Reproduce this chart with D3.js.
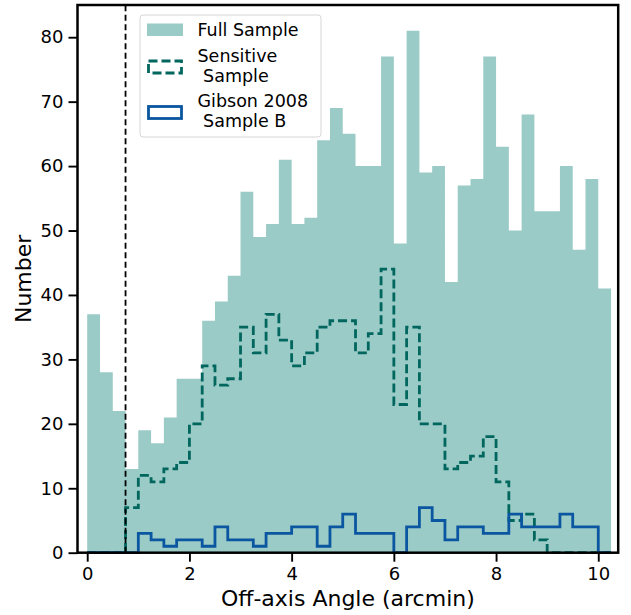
<!DOCTYPE html>
<html>
<head>
<meta charset="utf-8">
<script src="https://cdn.jsdelivr.net/npm/d3@7"></script>
<style>
  body { margin: 0; background: #fff; }
  text { font-family: "DejaVu Sans", sans-serif; fill: #000; }
</style>
</head>
<body>
<div id="chart"></div>
<script>
// bin edges: 0 .. 10.25 arcmin, width 0.25
var BIN_WIDTH = 0.25;
var fullSample = [37, 28, 22, 13, 19, 17, 21, 27, 27, 36, 39, 43, 56, 49, 51, 61, 51, 52, 64, 69, 65,
	60, 60, 77, 48, 81, 59, 60, 42, 57, 58, 77, 63, 50, 68, 53, 53, 60, 47, 58, 41];
var sensitiveSample = [0, 0, 0, 7, 12, 11, 13, 14, 20, 29, 26, 27, 35, 31, 37, 33, 29, 31, 35, 36, 36,
	31, 34, 44, 23, 35, 20, 20, 13, 14, 15, 18, 11, 5, 6, 2, 0, 0, 0, 0, 0];
var gibsonSample = [0, 0, 0, 0, 3, 2, 1, 2, 2, 1, 4, 2, 2, 1, 3, 3, 4, 4, 1, 4, 6,
	3, 3, 3, 0, 4, 7, 5, 2, 4, 4, 3, 3, 6, 4, 4, 4, 6, 4, 4, 0];
var cutoff = 0.75;
var xTicks = [0, 2, 4, 6, 8, 10];
var yTicks = [0, 10, 20, 30, 40, 50, 60, 70, 80];
var legendLabels = [["Full Sample"], ["Sensitive", " Sample"], ["Gibson 2008", " Sample B"]];

var W = 631, H = 615;
// #35978f at alpha 0.5 on white
var FULL_FILL = "#9acbc7", SENS_COLOR = "#01665e", GIB_COLOR = "#0b56a0";

var svg = d3.select("#chart").append("svg").attr("width", W).attr("height", H);

var x = d3.scaleLinear().domain([-0.19, 10.39]).range([77.5, 618.2]);
var y = d3.scaleLinear().domain([0, 85]).range([552.7, 5]);

var edges = d3.range(fullSample.length + 1).map(function(i){ return i * BIN_WIDTH; });

//STEP OUTLINE, LIKE histtype='step'
function stepPoints(values){
	var pts = [[edges[0], 0]];
	values.forEach(function(v, i){
		pts.push([edges[i], v]);
		pts.push([edges[i + 1], v]);
	});
	pts.push([edges[values.length], 0]);
	return pts;
}
var line = d3.line().x(function(p){ return x(p[0]); }).y(function(p){ return y(p[1]); });

//FULL SAMPLE BARS (ONE POLYGON, SO NO SEAMS BETWEEN BINS)
svg.append("path")
	.attr("d", line(stepPoints(fullSample)) + "Z")
	.attr("fill", FULL_FILL);

svg.append("path")
	.attr("d", line(stepPoints(sensitiveSample)))
	.attr("fill", "none").attr("stroke", SENS_COLOR)
	.attr("stroke-width", 2.8).attr("stroke-dasharray", "9,4");

svg.append("path")
	.attr("d", line(stepPoints(gibsonSample)))
	.attr("fill", "none").attr("stroke", GIB_COLOR)
	.attr("stroke-width", 2.8);

//CUTOFF LINE
svg.append("line")
	.attr("x1", x(cutoff)).attr("x2", x(cutoff))
	.attr("y1", y(0)).attr("y2", y(85))
	.attr("stroke", "#000").attr("stroke-width", 1.8).attr("stroke-dasharray", "6,3.5");

//AXES
var xAxis = svg.append("g").attr("transform", "translate(0," + y(0) + ")");
xAxis.call(d3.axisBottom(x).tickValues(d3.range(0, 10.01, 0.5)).tickSize(5.5).tickFormat(""));
xAxis.call(d3.axisBottom(x).tickValues(xTicks).tickSize(9).tickPadding(6).tickFormat(d3.format("d")));

var yAxis = svg.append("g").attr("transform", "translate(" + x.range()[0] + ",0)");
yAxis.call(d3.axisLeft(y).tickValues(d3.range(0, 85, 2)).tickSize(5.5).tickFormat(""));
yAxis.call(d3.axisLeft(y).tickValues(yTicks).tickSize(9).tickPadding(5).tickFormat(d3.format("d")));

svg.selectAll(".domain").remove();
svg.selectAll(".tick line").attr("stroke", "#000").attr("stroke-width", 1.9);
svg.selectAll(".tick text").style("font-size", "18px").style("font-family", "DejaVu Sans");

//FRAME
svg.append("rect")
	.attr("x", x.range()[0]).attr("y", y.range()[1])
	.attr("width", x.range()[1] - x.range()[0]).attr("height", y.range()[0] - y.range()[1])
	.attr("fill", "none").attr("stroke", "#000").attr("stroke-width", 2.5);

svg.append("text")
	.attr("x", (x.range()[0] + x.range()[1]) / 2).attr("y", 605.5)
	.attr("text-anchor", "middle").style("font-size", "22px")
	.text("Off-axis Angle (arcmin)");

svg.append("text")
	.attr("transform", "translate(31," + (y.range()[0] + y.range()[1]) / 2 + ") rotate(-90)")
	.attr("text-anchor", "middle").style("font-size", "22px")
	.text("Number");

//LEGEND
var legend = svg.append("g");
legend.append("rect")
	.attr("x", 140).attr("y", 15).attr("width", 181).attr("height", 122).attr("rx", 3)
	.attr("fill", "#fff").attr("fill-opacity", 0.8)
	.attr("stroke", "#d6d6d6").attr("stroke-width", 1);

var handleY = [23.5, 61, 106.5];
legend.append("rect").attr("x", 147).attr("y", handleY[0]).attr("width", 36).attr("height", 12.5)
	.attr("fill", FULL_FILL);
legend.append("rect").attr("x", 148.5).attr("y", handleY[1]).attr("width", 33).attr("height", 12)
	.attr("fill", "none").attr("stroke", SENS_COLOR).attr("stroke-width", 2.8).attr("stroke-dasharray", "9,4");
legend.append("rect").attr("x", 148.5).attr("y", handleY[2]).attr("width", 33).attr("height", 12)
	.attr("fill", "none").attr("stroke", GIB_COLOR).attr("stroke-width", 2.8);

var textY = [[36], [61.5, 82], [106.5, 127]];
legendLabels.forEach(function(lines, i){
	lines.forEach(function(t, j){
		legend.append("text")
			.attr("x", 197.5).attr("y", textY[i][j])
			.style("font-size", "17.5px").style("white-space", "pre")
			.attr("xml:space", "preserve")
			.text(t);
	});
});
</script>
</body>
</html>
